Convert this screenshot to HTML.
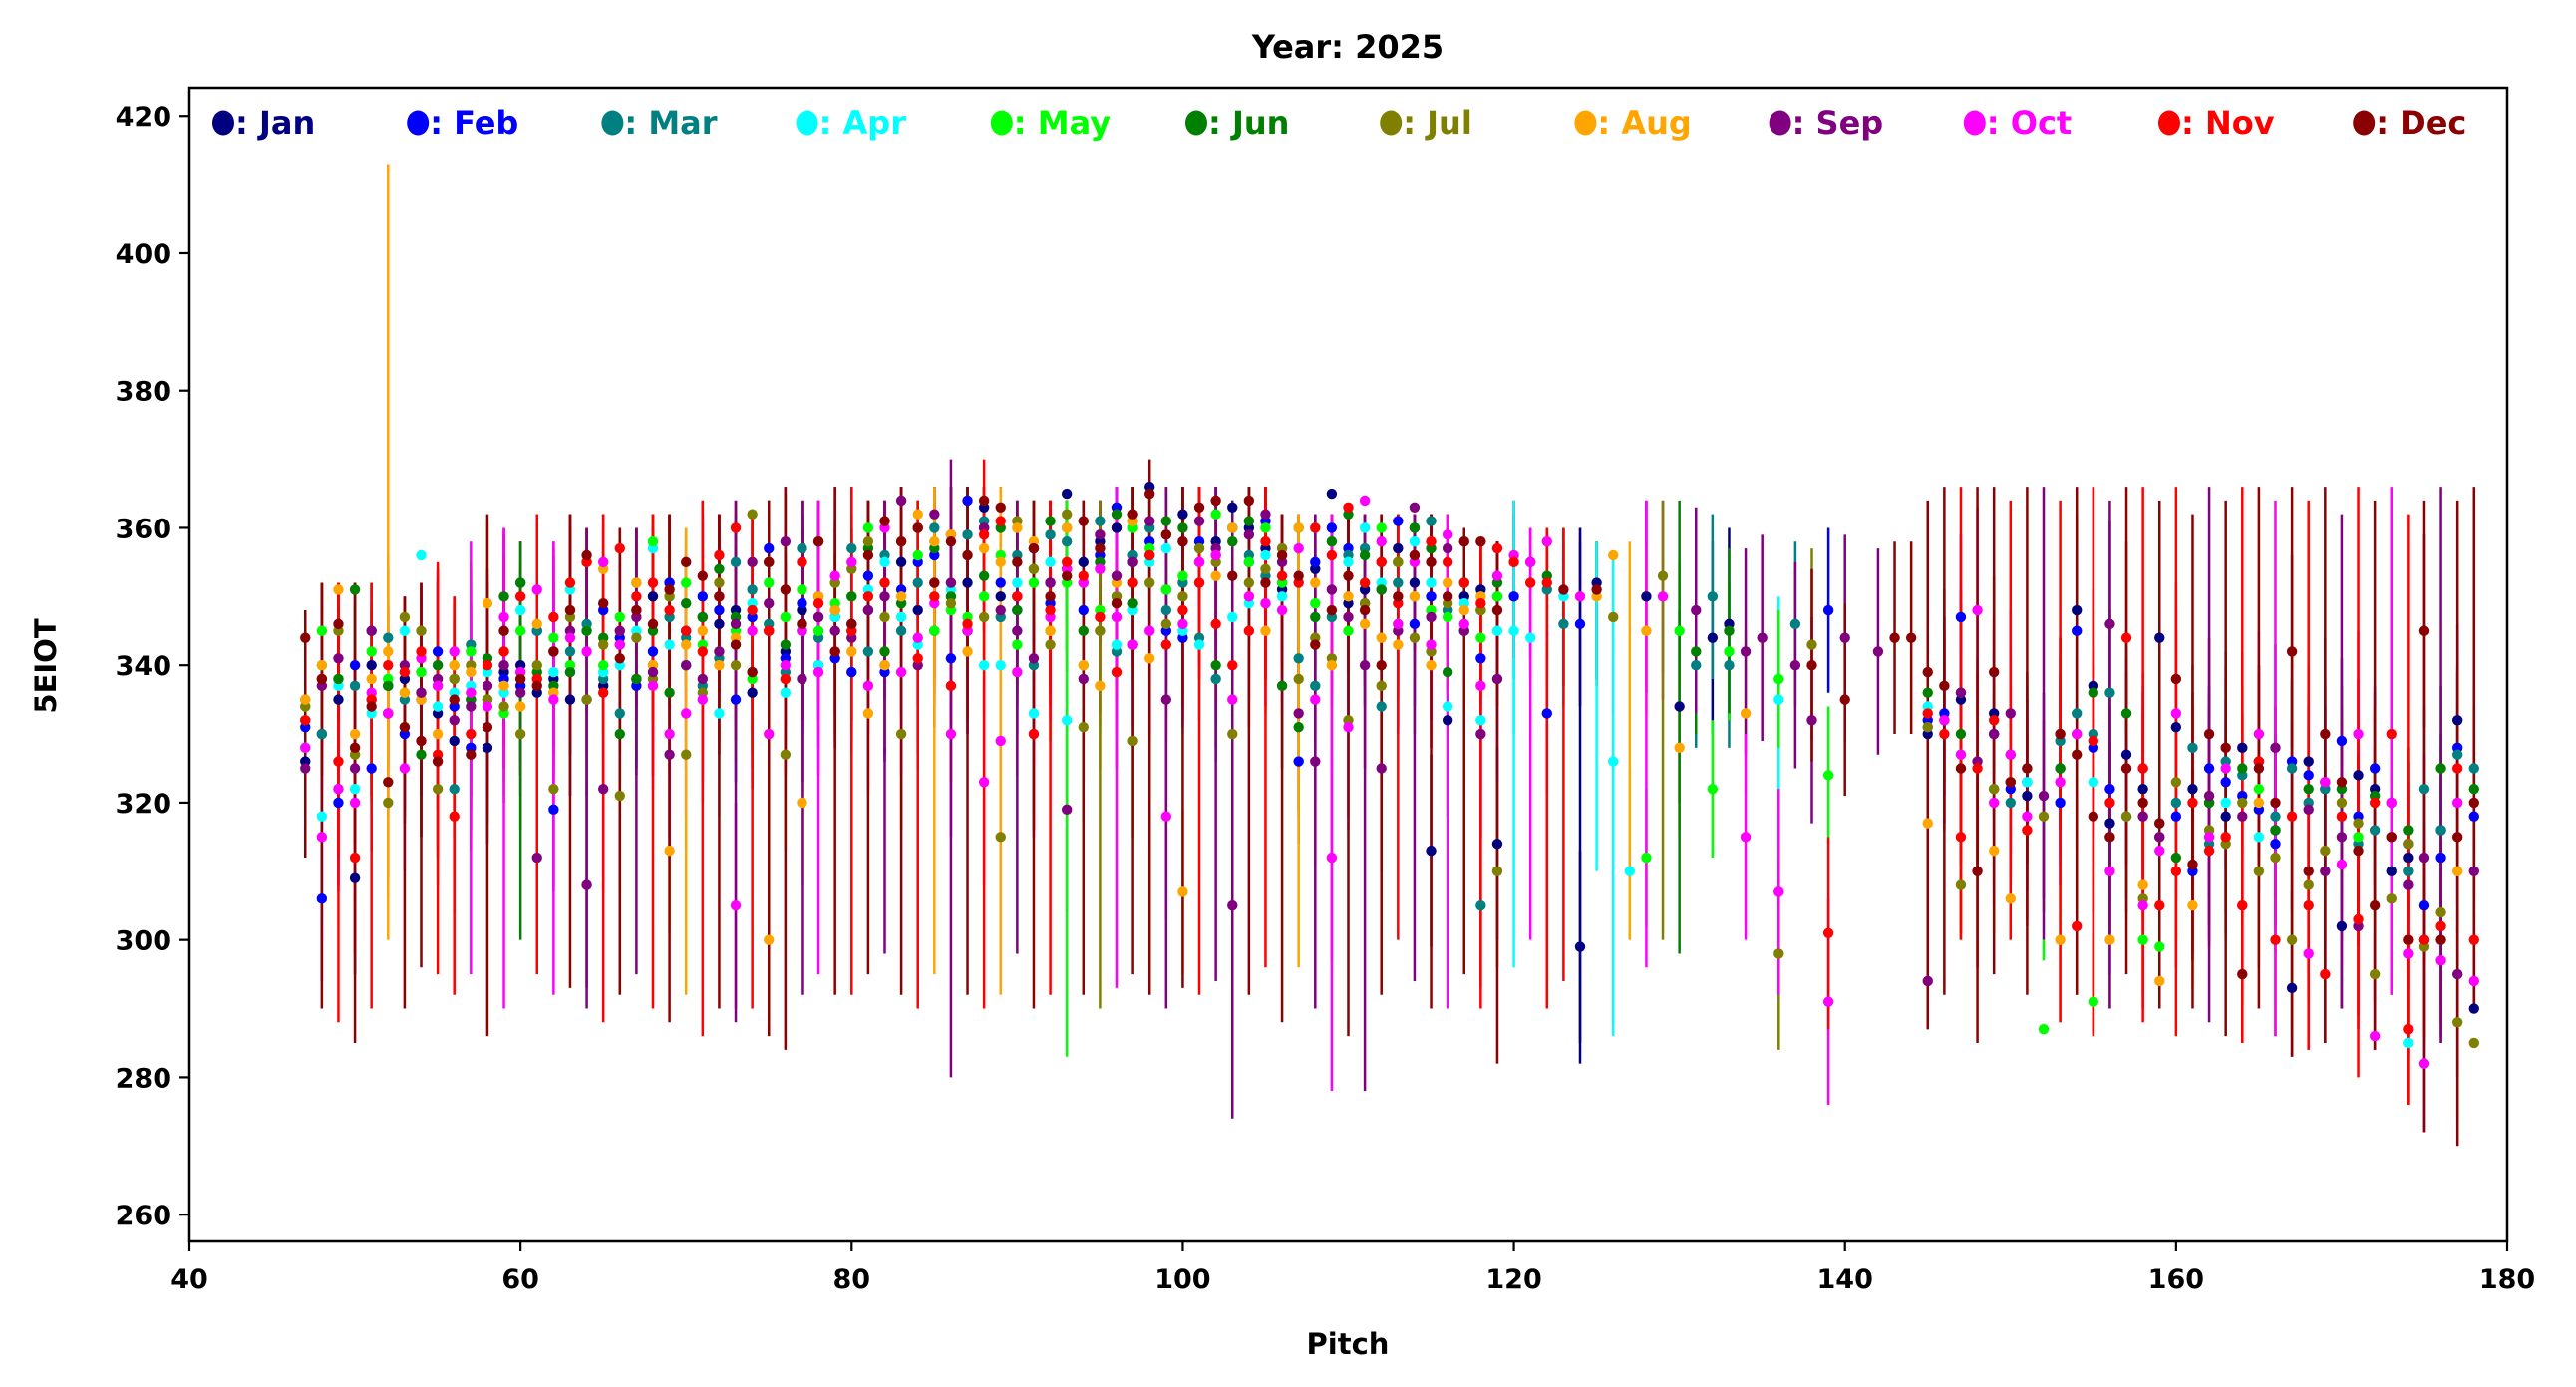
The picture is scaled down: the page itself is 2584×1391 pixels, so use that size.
<!DOCTYPE html>
<html><head><meta charset="utf-8"><style>
html,body{margin:0;padding:0;background:#fff;}
svg{display:block;font-family:"DejaVu Sans","Liberation Sans",sans-serif;font-weight:bold;}
</style></head><body>
<svg id="chart" width="2584" height="1391" viewBox="0 0 2584 1391" xmlns="http://www.w3.org/2000/svg">
<rect width="2584" height="1391" fill="#fff"/>
<text x="1352" y="58" text-anchor="middle" font-size="32">Year: 2025</text>
<text x="1352" y="1358" text-anchor="middle" font-size="29">Pitch</text>
<text transform="translate(56,668) rotate(-90)" text-anchor="middle" font-size="29">5EIOT</text>
<g id="marks"></g>
<g id="axes"></g>
<g id="legend"></g>
</svg>
<script>
const n = null;
const months = ["Jan","Feb","Mar","Apr","May","Jun","Jul","Aug","Sep","Oct","Nov","Dec"];
const colors = ["#000080","#0000ff","#008080","#00ffff","#00ff00","#008000","#808000","#ffa500","#800080","#ff00ff","#ff0000","#8b0000"];
const xTicks = [40,60,80,100,120,140,160,180];
const yTicks = [260,280,300,320,340,360,380,400,420];
const pitchStart = 47;
const meanJan = [326,330,335,309,340,333,338,336,333,329,335,
328,339,340,336,338,335,355,337,343,338,350,352,340,347,346,348,336,345,342,348,350,347,
346,348,340,355,348,345,359,352,363,350,348,357,352,365,355,358,360,355,366,351,
362,355,358,363,360,357,351,360,354,365,349,351,355,357,352,313,332,350,351,314,
n,355,n,n,299,352,n,n,350,n,334,n,344,346,n,n,n,n,n,n,n,n,n,n,n,
330,n,335,n,333,327,321,n,325,348,337,317,327,322,344,331,322,320,318,328,326,316,293,326,323,302,324,322,310,312,300,316,332,290];
const meanFeb = [331,306,320,340,325,337,330,335,342,334,328,
335,338,337,345,319,339,335,348,344,337,342,352,345,350,348,335,347,357,341,349,340,341,
339,353,339,351,355,356,341,364,360,352,350,357,349,354,348,356,363,343,358,345,
344,358,356,360,355,361,352,326,355,360,357,349,351,361,346,350,348,352,341,n,
350,n,333,n,346,n,n,n,n,n,n,n,n,n,n,n,n,n,n,348,n,n,n,n,n,
332,333,347,n,330,322,323,n,320,345,328,322,318,325,n,318,310,325,323,321,319,314,326,324,322,329,318,325,320,314,305,312,328,318];
const meanMar = [335,330,322,337,345,344,335,339,340,322,343,
335,340,352,345,336,342,346,338,333,352,340,347,344,337,341,355,351,346,339,357,344,352,
357,342,356,345,352,360,352,359,361,347,356,340,359,358,352,361,342,356,360,348,
352,344,338,360,356,353,357,341,337,347,356,357,334,352,360,361,348,352,305,350,
n,n,351,346,n,n,n,n,n,n,n,340,350,340,n,n,n,346,n,n,n,n,n,n,n,
331,n,336,n,n,320,325,n,329,333,330,336,n,318,315,320,328,314,326,324,n,318,325,320,322,318,314,316,n,310,322,316,327,325];
const meanApr = [328,318,337,322,333,338,345,356,334,336,337,
339,336,348,340,339,351,345,339,340,345,357,343,340,335,333,343,349,355,336,345,340,347,
345,351,355,347,343,358,351,345,340,340,352,333,355,332,340,345,343,348,355,357,
345,343,356,347,349,356,350,352,360,340,355,360,352,346,358,352,334,349,332,345,
345,344,n,350,n,n,326,310,n,n,n,n,n,n,n,n,335,n,n,n,n,n,n,n,n,
334,n,n,n,322,n,323,n,n,n,323,n,318,n,n,n,n,n,320,n,315,n,n,305,n,322,n,n,n,285,282,n,n,n];
const meanMay = [334,345,338,327,342,338,336,339,337,340,342,
335,333,345,338,344,340,355,340,347,352,358,350,352,343,342,345,338,352,347,351,345,349,
350,360,352,349,356,345,348,347,350,356,343,352,345,352,340,348,350,360,357,351,
353,357,362,358,355,360,352,360,349,358,345,352,360,355,350,348,347,352,344,350,
n,n,n,n,n,n,n,n,312,n,345,n,322,342,n,n,338,n,n,324,n,n,n,n,n,
n,n,327,n,n,n,n,287,n,n,291,n,n,300,299,n,n,n,n,n,322,n,n,n,n,n,315,n,n,n,n,n,n,n];
const meanJun = [332,340,338,351,335,337,331,327,340,338,335,
341,350,352,339,337,339,345,344,330,338,345,336,349,347,354,347,339,355,343,346,358,348,
350,357,342,349,360,357,350,345,353,360,348,354,361,360,345,355,362,349,356,361,
360,352,340,358,361,349,337,331,347,358,362,356,351,355,360,357,339,345,348,352,
n,n,353,n,n,n,n,n,n,n,n,342,n,345,n,n,n,n,n,n,n,n,n,n,n,
336,n,330,n,322,n,n,n,325,n,336,n,333,n,317,312,n,320,n,325,n,316,n,322,n,322,n,321,n,316,n,325,n,322];
const meanJul = [334,338,345,327,335,320,347,345,322,338,340,
335,334,330,340,322,347,335,343,321,344,338,350,327,336,352,340,362,355,327,345,347,352,
354,358,347,330,360,352,349,356,347,315,361,354,343,362,331,345,350,329,352,346,
350,357,355,330,352,354,357,338,344,341,332,349,337,355,344,342,349,358,348,310,
n,n,n,n,n,n,347,n,n,353,n,n,n,n,n,n,298,n,343,n,n,n,n,n,n,
331,n,308,n,322,323,n,318,n,330,n,315,318,306,n,323,n,316,314,320,310,312,300,308,313,320,317,295,306,314,299,304,288,285];
const meanAug = [335,340,351,330,338,342,336,335,330,340,339,
349,337,334,346,336,348,355,354,345,352,340,313,343,345,340,344,355,300,338,320,350,348,
342,333,340,350,362,358,359,342,357,355,360,358,345,360,340,337,352,361,341,359,
307,355,353,360,350,345,356,360,352,340,350,346,344,343,350,340,352,348,350,n,
n,n,n,n,n,350,356,n,345,n,328,n,n,n,333,n,n,n,n,n,n,n,n,n,n,
317,n,n,n,313,306,n,n,300,n,n,300,n,308,294,n,305,n,n,n,320,n,n,n,n,n,n,n,n,300,n,n,310,n];
const meanSep = [325,337,341,325,345,333,340,336,338,332,334,
337,340,336,312,342,345,308,322,345,347,339,327,340,338,342,346,355,349,358,338,347,345,
344,348,350,364,340,362,352,345,360,348,345,341,352,319,338,359,353,355,361,335,
358,361,357,305,359,362,355,333,326,351,347,340,325,345,363,347,357,345,330,338,
n,n,n,n,n,n,n,n,n,n,n,348,n,n,342,344,n,340,332,n,344,n,342,n,n,
294,332,336,326,330,333,n,321,n,n,n,346,n,318,315,n,n,321,n,318,n,328,n,319,310,315,302,n,315,308,312,n,295,310];
const meanOct = [328,315,322,320,336,333,325,341,337,342,336,
334,347,339,351,335,344,342,355,343,348,337,330,333,335,350,305,345,330,340,345,339,353,
355,337,360,339,344,349,330,345,323,329,339,330,347,354,352,354,347,343,345,318,
346,355,356,335,350,349,348,357,335,312,331,364,358,346,355,343,359,346,337,353,
356,355,358,n,350,n,n,n,n,350,n,n,n,n,315,n,307,n,n,291,n,n,n,n,n,
n,332,327,348,320,327,318,n,323,330,n,310,325,305,313,333,n,315,325,305,330,n,n,298,323,311,330,286,320,298,282,297,320,294];
const meanNov = [332,338,326,312,335,340,339,342,327,318,330,
340,342,350,338,347,352,355,336,357,350,352,348,345,342,356,360,348,345,338,355,349,342,
345,350,352,358,341,350,337,346,359,361,350,330,348,355,353,347,339,352,356,343,
348,352,346,340,345,358,353,352,360,356,363,352,355,349,356,358,355,352,349,357,
355,352,352,n,n,n,n,n,n,n,n,n,n,n,n,n,n,n,n,301,n,n,n,n,n,
333,330,315,325,332,323,316,n,330,302,329,320,344,325,305,310,320,313,315,305,326,300,318,305,295,318,303,320,330,287,300,302,325,300];
const meanDec = [344,338,346,328,334,323,331,329,326,335,327,
331,345,338,337,342,348,356,349,341,348,346,351,355,353,350,343,339,355,351,346,358,342,
346,356,361,358,360,352,358,356,364,363,355,357,350,353,361,357,349,362,365,359,
358,363,364,353,364,352,356,353,343,348,353,348,340,350,356,355,350,358,358,348,
n,n,n,351,n,351,n,n,n,n,n,n,n,n,n,n,n,n,340,n,335,n,n,344,344,
339,337,325,310,339,323,325,n,330,327,318,315,325,320,317,338,311,330,328,295,325,320,342,310,330,323,313,305,315,300,345,300,315,320];
const barHigh = [348,352,352,352,352,413,350,352,355,350,358,
362,360,358,362,358,362,360,362,360,360,362,362,360,364,362,364,362,364,366,364,364,366,
366,364,364,366,364,366,370,366,370,366,364,364,364,364,364,364,366,366,370,366,
366,366,366,364,366,366,362,362,362,362,362,362,362,362,362,362,362,360,358,358,
364,360,360,360,360,358,356,358,364,364,364,n,n,n,n,n,n,n,n,n,n,n,n,n,n,
364,366,366,366,366,364,366,366,364,366,366,364,366,366,364,366,362,366,364,366,366,364,366,364,366,362,366,364,366,362,364,366,364,366];
const barLow = [312,290,288,285,290,300,290,296,295,292,295,
286,290,300,295,292,293,290,288,292,295,290,288,292,286,290,288,290,286,284,292,295,292,
292,295,298,292,290,295,280,292,290,292,298,290,292,283,292,290,293,295,292,290,
293,292,294,274,292,296,288,296,290,278,286,278,292,300,294,290,290,295,290,282,
296,300,290,294,282,310,286,300,296,300,298,n,n,n,n,n,n,n,n,n,n,n,n,n,n,
287,292,300,285,295,300,292,300,288,292,286,290,295,288,290,286,290,288,286,285,290,286,283,284,285,290,280,284,292,276,272,285,270,290];
const barMonth = [11,11,10,11,10,7,11,11,10,10,9,
11,9,5,10,9,11,8,10,11,8,10,11,7,10,11,8,10,11,11,8,9,11,
10,11,8,11,10,7,8,11,10,7,8,11,10,4,11,6,9,11,11,8,
11,10,8,8,11,10,11,7,8,9,11,8,11,10,8,11,9,11,10,11,
3,9,10,10,0,3,3,7,9,6,5,-1,-1,-1,-1,-1,-1,-1,-1,-1,-1,-1,-1,-1,-1,
11,11,10,11,11,10,11,8,10,11,10,8,11,10,11,10,11,8,11,10,11,9,11,10,11,8,10,11,9,10,11,8,11,11];
const errMonth = [14,12,12,15,10,12,14,12,15,15,14,14];
const means = [meanJan,meanFeb,meanMar,meanApr,meanMay,meanJun,meanJul,meanAug,meanSep,meanOct,meanNov,meanDec];

const L=190,R=2515,T=88,B=1245,XMIN=40,XMAX=180,YMIN=256.1,YMAX=424.1;
function X(v){return L+(v-XMIN)*(R-L)/(XMAX-XMIN);}
function Y(v){return B-(v-YMIN)*(B-T)/(YMAX-YMIN);}
const NS="http://www.w3.org/2000/svg";
function mk(tag,attrs,parent){const e=document.createElementNS(NS,tag);for(const k in attrs)e.setAttribute(k,attrs[k]);parent.appendChild(e);return e;}
const marks=document.getElementById('marks');
// short bars (clipped to the pitch envelope where one exists)
for(let m=0;m<12;m++){
  const arr=means[m];
  for(let i=0;i<arr.length;i++){
    if(arr[i]===null) continue;
    const p=pitchStart+i;
    let lo=arr[i]-errMonth[m], hi=arr[i]+errMonth[m];
    if(barHigh[i]!==null){hi=Math.min(hi,Math.min(barHigh[i],366));lo=Math.max(lo,barLow[i]);}
    const ln=mk('line',{x1:X(p),x2:X(p),y1:Y(lo),y2:Y(hi),stroke:colors[m],'stroke-width':2.5},marks);
    
    
  }
}
// long bars
for(let i=0;i<barMonth.length;i++){
  const m=barMonth[i];
  if(m<0||barHigh[i]===null) continue;
  const p=pitchStart+i;
  const ln=mk('line',{x1:X(p),x2:X(p),y1:Y(barLow[i]),y2:Y(barHigh[i]),stroke:colors[m],'stroke-width':2.5},marks);
  
  
}
// markers
for(let m=0;m<12;m++){
  const arr=means[m];
  for(let i=0;i<arr.length;i++){
    if(arr[i]===null) continue;
    const p=pitchStart+i;
    const c=mk('circle',{cx:X(p),cy:Y(arr[i]),r:5.2,fill:colors[m]},marks);
    
    
  }
}
// axes
const axes=document.getElementById('axes');
const frame=mk('rect',{x:L,y:T,width:R-L,height:B-T,fill:'none',stroke:'#000','stroke-width':2.5},axes);


xTicks.forEach(t=>{
  const tk=mk('line',{x1:X(t),x2:X(t),y1:B,y2:B+10,stroke:'#000','stroke-width':2.2},axes);
  
  
  const tx=mk('text',{x:X(t),y:B+47,'text-anchor':'middle','font-size':27},axes);
  tx.textContent=t;
  
  
});
yTicks.forEach(t=>{
  const tk=mk('line',{x1:L-10,x2:L,y1:Y(t),y2:Y(t),stroke:'#000','stroke-width':2.2},axes);
  
  
  const tx=mk('text',{x:L-18,y:Y(t)+10,'text-anchor':'end','font-size':27},axes);
  tx.textContent=t;
  
  
});
// legend
const lg=document.getElementById('legend');
months.forEach((mn,k)=>{
  const x0=224+k*195.2;
  const g=mk('g',{},lg);
  
  
  mk('ellipse',{cx:x0,cy:123,rx:11,ry:12.5,fill:colors[k]},g);
  const t=mk('text',{x:x0+12,y:134,'font-size':32,fill:colors[k]},g);
  t.textContent=': '+mn;
});
</script>
</body></html>
